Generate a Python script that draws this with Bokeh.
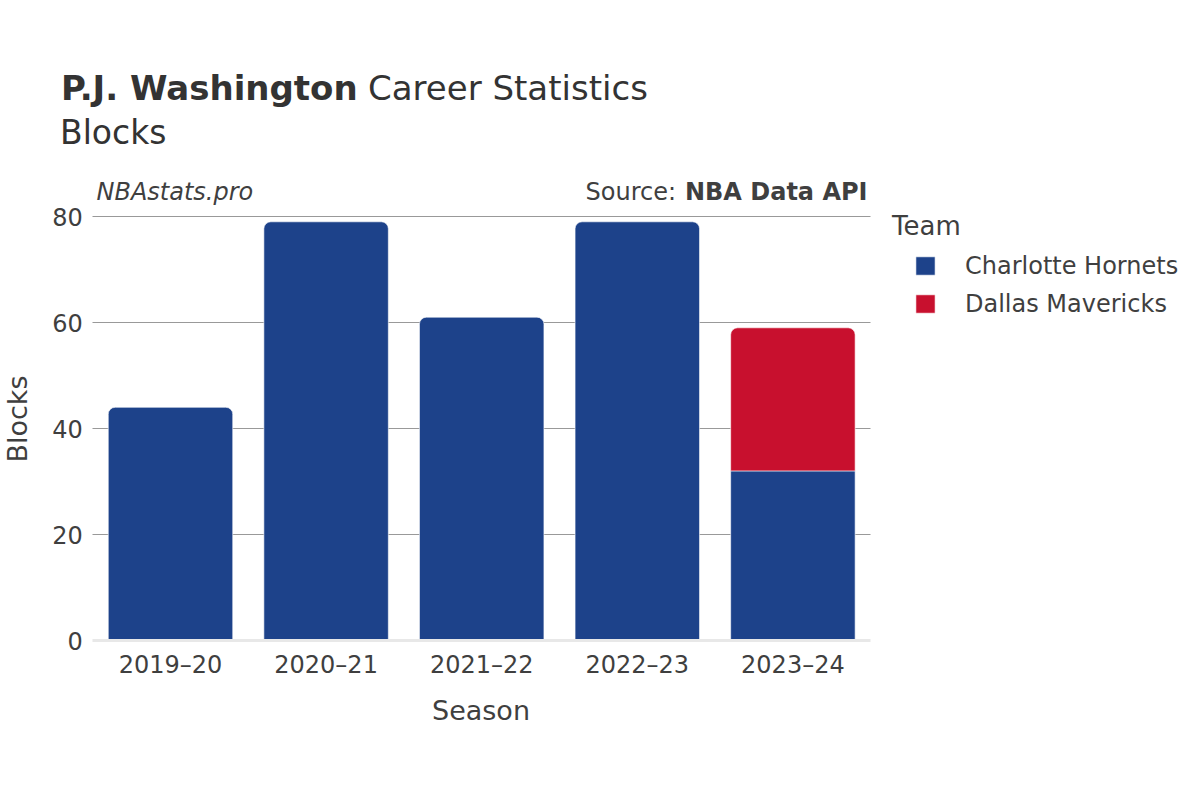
import math
from bokeh.plotting import figure
from bokeh.models import (Range1d, FixedTicker, Label, Legend, LegendItem,
                          LinearAxis, Grid)
from bokeh.embed import file_html
from bokeh.resources import INLINE

# ---------------- data ----------------
seasons = ["2019–20", "2020–21", "2021–22", "2022–23", "2023–24"]
charlotte_blocks = [44, 79, 61, 79, 32]
dallas_blocks = [0, 0, 0, 0, 27]
teams = ["Charlotte Hornets", "Dallas Mavericks"]
team_colors = ["#1D428A", "#C8102E"]
y_ticks = [0, 20, 40, 60, 80]

FONT = "DejaVu Sans"
TXT = "#3f3f3f"
W, H = 1184, 784

# the frame covers the whole canvas; the bar area is positioned through the ranges
X_PX = 155.6          # px per category
Y_PX = 5.3            # px per block
X0_PX, Y0_PX = 170.0, 640.0   # pixel position of first category / zero value
n = len(seasons)
x_range = Range1d(-X0_PX / X_PX, (W - X0_PX) / X_PX)
y_range = Range1d(-(H - Y0_PX) / Y_PX, Y0_PX / Y_PX)

p = figure(width=W, height=H, x_range=x_range, y_range=y_range,
           x_axis_location=None, y_axis_location=None,
           output_backend="svg", toolbar_location=None, title=None,
           min_border=0)
p.outline_line_color = None
p.background_fill_color = "white"
p.border_fill_color = "white"
p.grid.visible = False

xs = list(range(n))
x_lo, x_hi = -0.5, n - 0.5

# horizontal grid lines limited to the bar area
grid_ticks = [t for t in y_ticks if t != 0]
if "cross_bounds" in Grid.properties():
    p.add_layout(Grid(dimension=1, ticker=FixedTicker(ticks=grid_ticks),
                      cross_bounds=(x_lo, x_hi), grid_line_color="#999999",
                      grid_line_width=1))
else:
    p.segment(x0=[x_lo] * len(grid_ticks), x1=[x_hi] * len(grid_ticks),
              y0=grid_ticks, y1=grid_ticks, line_color="#999999", line_width=1)

# stacked bars: only the top-most segment gets rounded corners
top_x, top_t = [], []
low_x, low_t = [], []
dal_x, dal_b, dal_t = [], [], []
for i, c, d in zip(xs, charlotte_blocks, dallas_blocks):
    if d > 0:
        low_x.append(i); low_t.append(c)
        dal_x.append(i); dal_b.append(c); dal_t.append(c + d)
    else:
        top_x.append(i); top_t.append(c)

r_cha = p.vbar(x=top_x, bottom=0, top=top_t, width=0.8,
               fill_color=team_colors[0], line_color="white", line_width=0.6,
               border_radius=(7, 7, 0, 0))
r_cha2 = p.vbar(x=low_x, bottom=0, top=low_t, width=0.8,
                fill_color=team_colors[0], line_color="white", line_width=0.6)
r_dal = p.vbar(x=dal_x, bottom=dal_b, top=dal_t, width=0.8,
               fill_color=team_colors[1], line_color="white", line_width=0.6,
               border_radius=(7, 7, 0, 0))

# x axis placed at value 0
xaxis = LinearAxis(fixed_location=0, bounds=(x_lo, x_hi),
                   ticker=FixedTicker(ticks=xs),
                   major_label_overrides={i: s for i, s in zip(xs, seasons)})
xaxis.major_tick_line_color = None
xaxis.minor_tick_line_color = None
xaxis.axis_line_color = "#e8e8e8"
xaxis.axis_line_width = 3
xaxis.major_label_text_font = FONT
xaxis.major_label_text_font_size = "24px"
xaxis.major_label_text_color = TXT
xaxis.major_label_standoff = 4
p.add_layout(xaxis, "below")

# y axis placed at the left edge of the bar area
yaxis = LinearAxis(fixed_location=x_lo, bounds=(0, max(y_ticks)),
                   ticker=FixedTicker(ticks=y_ticks))
yaxis.major_tick_line_color = None
yaxis.minor_tick_line_color = None
yaxis.axis_line_color = None
yaxis.major_label_text_font = FONT
yaxis.major_label_text_font_size = "24px"
yaxis.major_label_text_color = TXT
yaxis.major_label_standoff = 4
p.add_layout(yaxis, "left")


def lab(text, fx, fy, size, style="normal", align="left", angle=0.0, color=TXT):
    p.add_layout(Label(x=fx, y=H - fy, x_units="screen", y_units="screen",
                       text=text, text_font=FONT, text_font_size=size,
                       text_font_style=style, text_color=color,
                       text_align=align, text_baseline="middle", angle=angle))


# titles
lab("P.J. Washington", 60.5, 87.5, "34px", style="bold", color="#333333")
lab("Career Statistics", 367.5, 87.5, "34px", color="#333333")
lab("Blocks", 59.5, 131.5, "33px", color="#333333")
# credits
lab("NBAstats.pro", 96, 191, "24px", style="italic")
lab("Source:", 585, 191, "24px")
lab("NBA Data API", 867, 191, "24px", style="bold", align="right")
# axis titles
lab("Blocks", 17, 418.5, "27px", align="center", angle=math.pi / 2)
lab("Season", 480.5, 710, "27px", align="center")
# legend title
lab("Team", 891.5, 225.5, "26px")

legend = Legend(items=[LegendItem(label=teams[0], renderers=[r_cha]),
                       LegendItem(label=teams[1], renderers=[r_dal])],
                location=(913, H - 317.5),
                margin=0, padding=0, spacing=10,
                glyph_width=24, glyph_height=23, label_height=28,
                label_standoff=28,
                label_text_font=FONT, label_text_font_size="24px",
                label_text_color=TXT,
                border_line_color=None, background_fill_alpha=0)
p.add_layout(legend, "center")

open("out.html", "w").write(file_html(p, INLINE))
